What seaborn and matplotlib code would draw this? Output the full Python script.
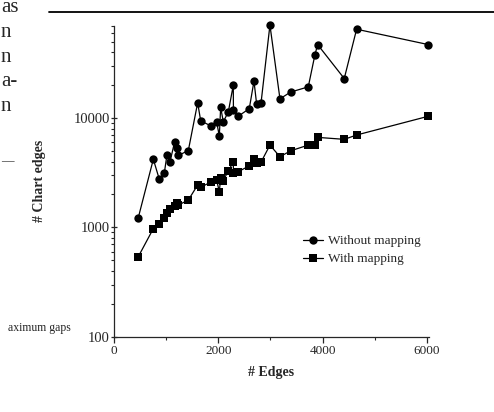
import matplotlib
matplotlib.use("Agg")
import matplotlib.pyplot as plt
from matplotlib.lines import Line2D
from matplotlib.ticker import FixedLocator, LogLocator, NullFormatter
import seaborn as sns

# graph sizes (# edges) and resulting chart edges
edges = [466, 754, 869, 965, 1015, 1075, 1160, 1214, 1235, 1425, 1604, 1662,
         1853, 1968, 2019, 2045, 2096, 2192, 2287, 2290, 2383, 2594, 2684,
         2735, 2818, 2990, 3182, 3387, 3725, 3853, 3905, 4415, 4652, 6030]
without_mapping = [1230, 4200, 2750, 3150, 4600, 4000, 6000, 5300, 4550, 5050,
                   13800, 9450, 8500, 9250, 6850, 12500, 9250, 11400, 20000,
                   11800, 10400, 12200, 21800, 13400, 13600, 71000, 15000,
                   17300, 19300, 38000, 47000, 23000, 65000, 47000]
with_mapping = [540, 975, 1070, 1210, 1350, 1470, 1580, 1680, 1600, 1780,
                2440, 2330, 2590, 2710, 2120, 2810, 2680, 3300, 3940, 3130,
                3240, 3650, 4200, 3860, 3940, 5660, 4430, 5020, 5660, 5660,
                6660, 6390, 7000, 10400]
series_labels = ["Without mapping", "With mapping"]
x_ticks = [0, 2000, 4000, 6000]
y_ticks = [100, 1000, 10000]

sns.set_style("ticks")
plt.rcParams["font.family"] = ["Liberation Serif", "DejaVu Serif"]

fig = plt.figure(figsize=(4.94, 4.12), dpi=100)
ax = fig.add_axes([0.2308, 0.1828, 0.6376, 0.7548])

sns.lineplot(x=edges, y=without_mapping, ax=ax, sort=False, estimator=None,
             color="black", marker="o", markersize=6, markeredgewidth=0,
             linewidth=0.9, label=series_labels[0], clip_on=False)
sns.lineplot(x=edges, y=with_mapping, ax=ax, sort=False, estimator=None,
             color="black", marker="s", markersize=5.5, markeredgewidth=0,
             linewidth=0.9, label=series_labels[1], clip_on=False)

ax.set_yscale("log")
ax.set_xlim(0, 6040)
ax.set_ylim(100, 70000)
sns.despine(ax=ax)
for s in ["left", "bottom"]:
    ax.spines[s].set_linewidth(0.9)

ax.xaxis.set_major_locator(FixedLocator(x_ticks))
ax.xaxis.set_minor_locator(FixedLocator([1000, 3000, 5000]))
ax.set_xticklabels([str(t) for t in x_ticks])
ax.yaxis.set_major_locator(FixedLocator(y_ticks))
ax.yaxis.set_minor_locator(LogLocator(base=10, subs=range(2, 10)))
ax.yaxis.set_minor_formatter(NullFormatter())
ax.set_yticklabels([str(t) for t in y_ticks])
ax.tick_params(axis="x", which="major", direction="out", length=4, width=0.9,
               labelsize=9.5, pad=2)
ax.tick_params(axis="x", which="minor", direction="out", length=2.5, width=0.8)
ax.tick_params(axis="y", which="major", direction="inout", length=4, width=0.9,
               labelsize=10.5, pad=1)
ax.tick_params(axis="y", which="minor", direction="out", length=2, width=0.8)

ax.set_xlabel("# Edges", fontsize=10, fontweight="bold")
ax.set_ylabel("# Chart edges", fontsize=10, fontweight="bold")
ax.xaxis.set_label_coords(0.5, -0.094)
ax.yaxis.set_label_coords(-0.215, 0.5)

ax.legend(loc="upper left", bbox_to_anchor=(0.6, 0.327), frameon=False,
          fontsize=9.5, handlelength=1.5, handletextpad=0.4, borderpad=0,
          borderaxespad=0, labelspacing=0.45)

# fragments of the surrounding page
fig.add_artist(Line2D([0.099, 1.0], [0.971, 0.971], color="black", linewidth=1.3))
for txt, ypx in [("as", 12.5), ("n", 36.7), ("n", 61.7), ("a-", 86), ("n", 111)]:
    fig.text(1 / 494, 1 - ypx / 412, txt, ha="left", va="baseline",
             fontsize=15)
fig.text(1 / 494, 1 - 164 / 412, "\u2014", ha="left", va="baseline", fontsize=9)
fig.text(71 / 494, 1 - 331 / 412, "aximum gaps", ha="right", va="baseline",
         fontsize=8.5)

fig.savefig("out.png", dpi=100)
